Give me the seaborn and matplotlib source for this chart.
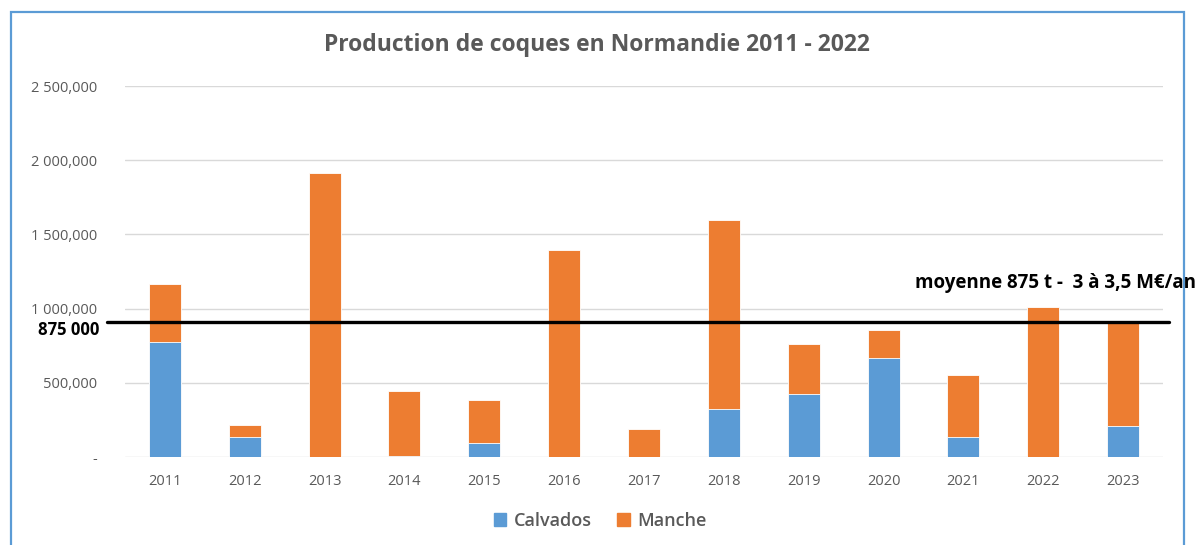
import numpy as np
import pandas as pd
import seaborn as sns
from matplotlib import pyplot as plt
from matplotlib.patches import Rectangle

years = ["2011", "2012", "2013", "2014", "2015", "2016", "2017",
         "2018", "2019", "2020", "2021", "2022", "2023"]
calvados = [775000, 135000, 0, 9000, 92000, 0, 0,
            323000, 427000, 667000, 135000, 0, 210000]
manche = [390000, 78000, 1913000, 437000, 292000, 1395000, 187000,
          1274000, 334000, 189000, 417000, 1008000, 695000]
moyenne = 908000
yticks = [0, 500000, 1000000, 1500000, 2000000, 2500000]
ytick_labels = ["-", "500,000", "1 000,000", "1 500,000", "2 000,000", "2 500,000"]

BLUE = "#5B9BD5"
ORANGE = "#ED7D31"
GREY = "#595959"

df = pd.DataFrame({"annee": years, "Calvados": calvados, "Manche": manche})
df["total"] = df["Calvados"] + df["Manche"]

sns.set_style("white")
plt.rcParams["font.family"] = ["Open Sans", "DejaVu Sans"]

fig = plt.figure(figsize=(11.95, 5.45), dpi=100)
ax = fig.add_axes([125 / 1195, 88 / 545, 1038 / 1195, 371 / 545])

# stacked: total in orange first, Calvados on top of it from zero
sns.barplot(data=df, x="annee", y="total", color=ORANGE, width=0.4,
            saturation=1, edgecolor="white", linewidth=0.6, ax=ax, zorder=3)
sns.barplot(data=df, x="annee", y="Calvados", color=BLUE, width=0.4,
            saturation=1, edgecolor="white", linewidth=0.6, ax=ax, zorder=3)

ax.set_ylim(0, 2500000)
ax.set_xlim(-0.5, len(years) - 0.5)
ax.set_yticks(yticks)
ax.set_yticklabels(ytick_labels)
ax.grid(axis="y", color="#D9D9D9", linewidth=1, zorder=0)
ax.set_axisbelow(True)
for s in ax.spines.values():
    s.set_visible(False)
ax.tick_params(axis="both", length=0, colors=GREY, labelsize=10.5)
ax.tick_params(axis="y", pad=20)
ax.tick_params(axis="x", pad=12)
ax.set_xlabel("")
ax.set_ylabel("")

# mean line, drawn a bit past the plot area like in the original
ax.plot([-0.73, 12.58], [moyenne, moyenne], color="black", lw=2.4,
        clip_on=False, zorder=5)
fig.text(69 / 1195, 1 - 330 / 545, "875 000", ha="center", va="center",
         fontsize=12, fontweight="bold", color="black")
fig.text(915 / 1195, 1 - 283 / 545, "moyenne 875 t -  3 à 3,5 M€/an",
         ha="left", va="center", fontsize=13.5, fontweight="bold", color="black")

fig.text(597 / 1195, 1 - 45 / 545, "Production de coques en Normandie 2011 - 2022",
         ha="center", va="center", fontsize=16.5, fontweight="bold", color=GREY)

handles = [Rectangle((0, 0), 1, 1, color=BLUE), Rectangle((0, 0), 1, 1, color=ORANGE)]
fig.legend(handles, ["Calvados", "Manche"], loc="center", ncol=2,
           bbox_to_anchor=(600 / 1195, 1 - 521 / 545), frameon=False,
           prop={"size": 13, "weight": "semibold"},
           handlelength=0.7, handleheight=0.7, handletextpad=0.4,
           columnspacing=1.4, labelcolor=GREY)

fig.patches.append(Rectangle((11 / 1195, -0.1), 1173 / 1195, 1.1 - 12 / 545,
                             transform=fig.transFigure, fill=False,
                             edgecolor="#5B9BD5", lw=1.6))

fig.savefig("out.png", dpi=100)
